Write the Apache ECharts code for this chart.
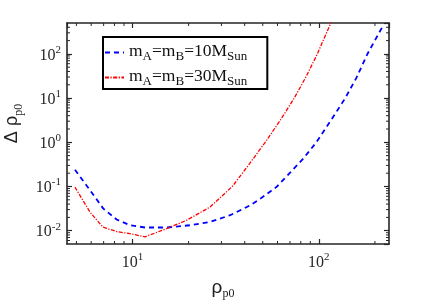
<!DOCTYPE html>
<html>
<head>
<meta charset="utf-8">
<script src="https://cdn.jsdelivr.net/npm/echarts@6/dist/echarts.min.js"></script>
<style>html,body{margin:0;padding:0;background:#fff;}#c{width:431px;height:305px;}</style>
</head>
<body>
<div id="c"></div>
<script>
// ---- data ----
var blueX = [4.91, 5.92, 6.97, 8.22, 9.69, 11.67, 15.27, 20.4, 26.1, 33.4, 42.8, 49.7, 59.2, 70.3, 82.6, 97.0, 116.7, 138.7, 159, 182, 222];
var blueY = [0.239, 0.0817, 0.0316, 0.0179, 0.0133, 0.0118, 0.0118, 0.0133, 0.0158, 0.0224, 0.0375, 0.0569, 0.097, 0.208, 0.430, 1.0, 3.25, 10, 28.6, 98, 448];
var redX = [4.91, 5.92, 6.94, 8.26, 9.69, 11.67, 15.27, 19.5, 26.1, 34.3, 41.8, 51.5, 62.1, 73.8, 85.6, 98.2, 115.3, 130.6];
var redY = [0.0969, 0.0261, 0.0120, 0.0095, 0.00856, 0.00725, 0.0112, 0.0172, 0.0344, 0.1, 0.299, 1.0, 3.16, 10, 31, 100, 471, 1560];
var seriesNames = ['mA=mB=10MSun', 'mA=mB=30MSun'];
var legendRich = ['{m|m}{s|A}{m|=m}{s|B}{m|=10M}{s|Sun}', '{m|m}{s|A}{m|=m}{s|B}{m|=30M}{s|Sun}'];
var xRange = [4.45, 238];
var yRange = [0.005, 500];
var xMinorTicks = [5, 6, 7, 8, 9, 20, 30, 40, 50, 60, 70, 80, 90, 200];
var yMinorTicks = [0.006, 0.007, 0.008, 0.009, 0.02, 0.03, 0.04, 0.05, 0.06, 0.07, 0.08, 0.09,
  0.2, 0.3, 0.4, 0.5, 0.6, 0.7, 0.8, 0.9, 2, 3, 4, 5, 6, 7, 8, 9,
  20, 30, 40, 50, 60, 70, 80, 90, 200, 300, 400];

function pairs(xs, ys) { return xs.map(function (x, i) { return [x, ys[i]]; }); }

var axisColor = '#262626';
var serif = 'Liberation Serif';
var tickRich = {
  b: { fontFamily: serif, fontSize: 16, color: '#262626', lineHeight: 19, verticalAlign: 'bottom' },
  e: { fontFamily: serif, fontSize: 11, color: '#262626', lineHeight: 19, verticalAlign: 'top' }
};
function powFmt(v) {
  var e = Math.round(Math.log(v) / Math.LN10);
  return '{b|10}{e|' + e + '}';
}
function axisBase(extra) {
  var o = {
    type: 'log', logBase: 10,
    axisLine: { show: true, lineStyle: { color: axisColor, width: 1.6 } },
    axisTick: { show: true, inside: true, length: 5, lineStyle: { color: axisColor, width: 1.2 } },
    splitLine: { show: false },
    minorTick: { show: false }
  };
  for (var k in extra) o[k] = extra[k];
  return o;
}

var chart = echarts.init(document.getElementById('c'), null, { renderer: 'canvas' });

function minorTickRender(dir) {
  return function (params, api) {
    var L = 3;
    var st = { stroke: axisColor, lineWidth: 1 };
    if (dir === 'x') {
      var v = api.value(0);
      var pb = api.coord([v, yRange[0]]);
      var pt = api.coord([v, yRange[1]]);
      return { type: 'group', children: [
        { type: 'line', shape: { x1: pb[0], y1: pb[1], x2: pb[0], y2: pb[1] - L }, style: st },
        { type: 'line', shape: { x1: pt[0], y1: pt[1], x2: pt[0], y2: pt[1] + L }, style: st }
      ] };
    } else {
      var w = api.value(1);
      var pl = api.coord([xRange[0], w]);
      var pr = api.coord([xRange[1], w]);
      return { type: 'group', children: [
        { type: 'line', shape: { x1: pl[0], y1: pl[1], x2: pl[0] + L, y2: pl[1] }, style: st },
        { type: 'line', shape: { x1: pr[0], y1: pr[1], x2: pr[0] - L, y2: pr[1] }, style: st }
      ] };
    }
  };
}

chart.setOption({
  animation: false,
  backgroundColor: '#fff',
  grid: { left: 67, right: 42, top: 23, bottom: 61, containLabel: false, outerBoundsMode: 'none' },
  legend: {
    left: 103, top: 37, orient: 'vertical',
    data: seriesNames,
    borderColor: '#000', borderWidth: 2, borderRadius: 0,
    padding: [5, 20, 1, 1], itemGap: 4, itemWidth: 19, itemHeight: 10,
    backgroundColor: '#fff',
    itemStyle: { opacity: 0 },
    formatter: function (name) { return legendRich[seriesNames.indexOf(name)]; },
    textStyle: {
      rich: {
        m: { fontFamily: serif, fontSize: 17.5, color: '#111', lineHeight: 21, verticalAlign: 'top' },
        s: { fontFamily: serif, fontSize: 13, color: '#111', lineHeight: 21, verticalAlign: 'bottom' }
      }
    }
  },
  xAxis: [
    axisBase({
      position: 'bottom', min: xRange[0], max: xRange[1],
      axisLabel: { formatter: powFmt, rich: tickRich, margin: 8, showMinLabel: false, showMaxLabel: false },
      name: '{r|ρ}{s|p0}', nameLocation: 'middle', nameGap: 34,
      nameTextStyle: { padding: [0, 10, 0, 0], rich: {
        r: { fontFamily: 'Liberation Sans', fontSize: 19, color: '#222', lineHeight: 22, verticalAlign: 'top' },
        s: { fontFamily: serif, fontSize: 12, color: '#222', lineHeight: 22, verticalAlign: 'bottom' }
      } }
    }),
    axisBase({
      position: 'top', min: xRange[0], max: xRange[1],
      axisLabel: { show: false }
    })
  ],
  yAxis: [
    axisBase({
      position: 'left', min: yRange[0], max: yRange[1],
      axisLabel: { formatter: powFmt, rich: tickRich, margin: 6, showMinLabel: false, showMaxLabel: false },
      name: '{d|Δ ρ}{s|p0}', nameLocation: 'middle', nameGap: 41, nameRotate: 90,
      nameTextStyle: { padding: [0, 0, 0, 20], rich: {
        d: { fontFamily: 'Liberation Sans', fontSize: 18, color: '#222', lineHeight: 22, verticalAlign: 'top' },
        s: { fontFamily: serif, fontSize: 12, color: '#222', lineHeight: 22, verticalAlign: 'bottom' }
      } }
    }),
    axisBase({
      position: 'right', min: yRange[0], max: yRange[1],
      axisLabel: { show: false }
    })
  ],
  series: [
    {
      name: seriesNames[0], type: 'line', data: pairs(blueX, blueY),
      xAxisIndex: 0, yAxisIndex: 0, symbol: 'none', smooth: false, clip: true,
      lineStyle: { color: '#0000ff', width: 1.8, type: [5, 4] },
      itemStyle: { color: '#0000ff' }, z: 3
    },
    {
      name: seriesNames[1], type: 'line', data: pairs(redX, redY),
      xAxisIndex: 0, yAxisIndex: 0, symbol: 'none', smooth: false, clip: true,
      lineStyle: { color: '#ff0000', width: 1.3, type: [4, 1.5, 1.2, 1.5] },
      itemStyle: { color: '#ff0000' }, z: 3
    },
    {
      type: 'custom', xAxisIndex: 0, yAxisIndex: 0, silent: true, clip: false,
      data: xMinorTicks.map(function (v) { return [v, yRange[0]]; }),
      renderItem: minorTickRender('x'), z: 5
    },
    {
      type: 'custom', xAxisIndex: 0, yAxisIndex: 0, silent: true, clip: false,
      data: yMinorTicks.map(function (v) { return [xRange[0], v]; }),
      renderItem: minorTickRender('y'), z: 5
    }
  ]
});
</script>
</body>
</html>
